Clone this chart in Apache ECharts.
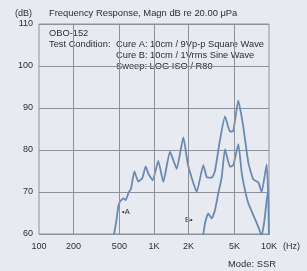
<!DOCTYPE html>
<html><head><meta charset="utf-8">
<script src="https://cdn.jsdelivr.net/npm/echarts@6/dist/echarts.min.js"></script>
<style>html,body{margin:0;padding:0;background:#e7ebf1;}#c{width:307px;height:271px;}</style>
</head><body><div id="c"></div>
<script>
const xTicks = [100, 200, 500, 1000, 2000, 5000, 10000];
const xTickLabels = ['100', '200', '500', '1K', '2K', '5K', '10K'];
const xGrid = [200, 500, 1000, 2000, 5000];
const curveA = [[430,57],[470,63],[489,66.5],[506,67.7],[541,68.5],[567,68.1],[598,69.7],[631,70.8],[675,74.9],[730,72.5],[791,73.3],[847,76.1],[892,74.4],[974,72.8],[1090,77.4],[1204,72.4],[1377,79.6],[1472,77.6],[1575,75.5],[1800,83],[1964,76.8],[2153,72.9],[2351,70],[2685,76.4],[2872,73.6],[3174,73.4],[3390,75],[3748,82.4],[4144,88],[4579,84.4],[4895,84.6],[5410,91.8],[5978,85.5],[6610,77],[7300,73],[8070,72.3],[8630,70],[9545,76.6],[9870,68],[10000,58]];
const curveB = [[2600,57],[2773,62.5],[2965,64.9],[3174,63.7],[3390,65.7],[3622,69.7],[3880,73.5],[4144,80.2],[4579,76],[4895,76.4],[5410,81.4],[5794,74.5],[6180,70.5],[6610,67.3],[7300,64.5],[8070,61.7],[8630,59.6],[9100,63],[9545,68],[9850,70],[10000,70]];
const yMin = 60, yMax = 110, yStep = 10;

const chart = echarts.init(document.getElementById('c'), null, {renderer:'canvas'});
const txt = '#2a2e33', gridC = '#8d929a', lineC = '#6a89b0';
const F = 'Liberation Sans, Arial, sans-serif';
chart.setOption({
  backgroundColor: '#e7ebf1',
  animation: false,
  grid: {left: 39, right: 38, top: 24, bottom: 37, show: true, borderColor: gridC, borderWidth: 1, backgroundColor: 'transparent'},
  xAxis: {
    type: 'log', logBase: 10, min: 100, max: 10000,
    axisLine: {show: false}, axisTick: {show: false},
    splitLine: {show: false},
    axisLabel: {customValues: xTicks, color: txt, fontSize: 9, fontFamily: F, margin: 8,
      formatter: v => xTickLabels[xTicks.indexOf(Math.round(v))] || ''}
  },
  yAxis: {
    type: 'value', min: yMin, max: yMax, interval: yStep,
    axisLine: {show: false}, axisTick: {show: false},
    splitLine: {show: true, lineStyle: {color: gridC, width: 1}},
    axisLabel: {color: txt, fontSize: 9, fontFamily: F, margin: 6}
  },
  series: [
    {type: 'line', data: curveA, showSymbol: false, smooth: 0.15, clip: true,
      lineStyle: {color: lineC, width: 1.8},
      markLine: {silent: true, symbol: 'none', label: {show: false},
        lineStyle: {color: gridC, width: 1, type: 'solid'},
        data: xGrid.map(v => ({xAxis: v}))}},
    {type: 'line', data: curveB, showSymbol: false, smooth: 0.15, clip: true,
      lineStyle: {color: lineC, width: 1.8}}
  ],
  graphic: [
    {type: 'text', left: 15, top: 9, style: {text: '(dB)', fill: txt, font: '9px ' + F}},
    {type: 'text', left: 49, top: 9, style: {text: 'Frequency Response, Magn dB re 20.00 μPa', fill: txt, font: '9.4px ' + F}},
    {type: 'text', left: 49, top: 29, style: {text: 'OBO-152', fill: txt, font: '9.3px ' + F}},
    {type: 'text', left: 49, top: 40, style: {text: 'Test Condition:', fill: txt, font: '9.3px ' + F}},
    {type: 'text', left: 116, top: 40, style: {text: 'Cure A: 10cm / 9Vp-p Square Wave', fill: txt, font: '9.3px ' + F}},
    {type: 'text', left: 116, top: 51, style: {text: 'Cure B: 10cm / 1Vrms Sine Wave', fill: txt, font: '9.3px ' + F}},
    {type: 'text', left: 116, top: 62, style: {text: 'Sweep: LOG ISO / R80', fill: txt, font: '9.3px ' + F}},
    {type: 'text', left: 122, top: 208, style: {text: '•A', fill: txt, font: '7.5px ' + F}},
    {type: 'text', left: 185, top: 216, style: {text: 'B•', fill: txt, font: '7.5px ' + F}},
    {type: 'text', left: 283, top: 242, style: {text: '(Hz)', fill: txt, font: '9px ' + F}},
    {type: 'text', left: 228, top: 260, style: {text: 'Mode: SSR', fill: txt, font: '9.4px ' + F}}
  ]
});
</script></body></html>
